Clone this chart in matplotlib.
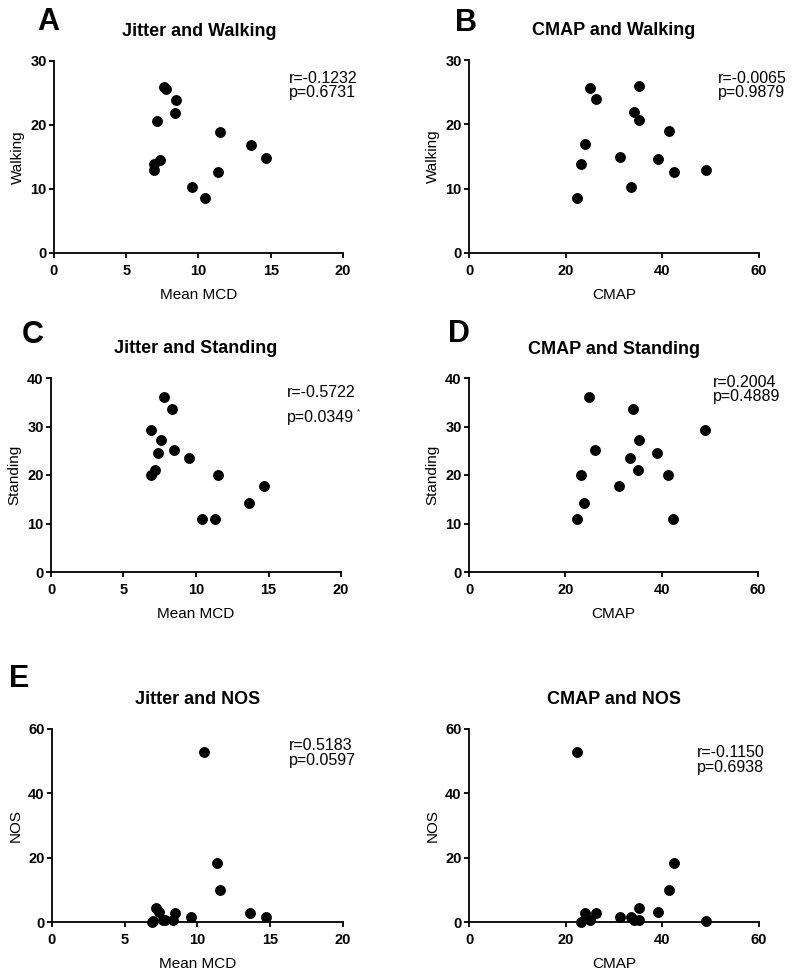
import matplotlib
matplotlib.use("Agg")
import matplotlib.pyplot as plt

plt.rcParams['font.family'] = ['Liberation Sans', 'DejaVu Sans']

# one entry per subject
mean_mcd = [10.43, 6.90, 13.63, 7.77, 8.45, 14.70, 9.52, 8.35, 7.62, 7.14, 7.35, 11.52, 11.33, 6.93]
cmap = [22.35, 23.15, 23.90, 25.00, 26.25, 31.20, 33.45, 34.06, 35.20, 35.15, 39.10, 41.35, 42.35, 49.00]
walking = [8.6, 13.9, 16.9, 25.6, 23.9, 14.9, 10.3, 21.9, 25.9, 20.6, 14.6, 18.95, 12.6, 12.9]
standing = [11.0, 19.9, 14.3, 36.0, 25.2, 17.7, 23.6, 33.6, 27.2, 21.0, 24.6, 19.95, 11.0, 29.3]
nos = [53.0, 0.0, 2.7, 0.7, 2.7, 1.7, 1.7, 0.7, 0.5, 4.3, 3.0, 10.0, 18.3, 0.3]

titles = ["Jitter and Walking", "CMAP and Walking",
          "Jitter and Standing", "CMAP and Standing",
          "Jitter and NOS", "CMAP and NOS"]
letters = ["A", "B", "C", "D", "E", ""]
stats = [("r=-0.1232", "p=0.6731"), ("r=-0.0065", "p=0.9879"),
         ("r=-0.5722", "p=0.0349"), ("r=0.2004", "p=0.4889"),
         ("r=0.5183", "p=0.0597"), ("r=-0.1150", "p=0.6938")]

W, H = 795, 975
fig = plt.figure(figsize=(W / 100, H / 100), dpi=100)


def px(x, y):
    return x / W, 1 - y / H


def make_axes(x0, x1, y0, y1):
    # pixel box -> figure fraction
    return fig.add_axes([x0 / W, 1 - y1 / H, (x1 - x0) / W, (y1 - y0) / H])


boxes = [(54, 343, 61, 253), (469, 759, 60, 253),
         (51, 341, 378, 572), (469, 758, 378, 572),
         (52, 343, 729, 922), (469, 759, 729, 922)]
xs = [mean_mcd, cmap] * 3
ys = [walking, walking, standing, standing, nos, nos]
ylabels = ["Walking", "Walking", "Standing", "Standing", "NOS", "NOS"]
xlabels = ["Mean MCD", "CMAP"] * 3
ylims = [(0, 30), (0, 30), (0, 40), (0, 40), (0, 60), (0, 60)]
yticks = [[0, 10, 20, 30], [0, 10, 20, 30], [0, 10, 20, 30, 40], [0, 10, 20, 30, 40],
          [0, 20, 40, 60], [0, 20, 40, 60]]
xlims = [(0, 20), (0, 60)] * 3
xticks = [[0, 5, 10, 15, 20], [0, 20, 40, 60]] * 3

# title centre / baseline, letter position, stats position (pixels)
title_pos = [(199, 36), (614, 35), (196, 353), (614, 354), (198, 704), (614, 704)]
letter_pos = [(37, 30), (455, 31), (22, 343), (448, 342), (9, 687), (0, 0)]
stat_pos = [(289, 83, 14.5), (718, 83, 14.5), (287, 397, 25), (713, 387, 14.5),
            (289, 750, 15), (697, 757, 15)]

for i in range(6):
    ax = make_axes(*boxes[i])
    ax.plot(xs[i], ys[i], 'o', color='black', ms=6.8, clip_on=False)
    ax.set_xlim(*xlims[i])
    ax.set_ylim(*ylims[i])
    ax.set_xticks(xticks[i])
    ax.set_yticks(yticks[i])
    for s in ['top', 'right']:
        ax.spines[s].set_visible(False)
    for s in ['left', 'bottom']:
        ax.spines[s].set_linewidth(1.3)
    ax.tick_params(axis='both', direction='out', length=3.8, width=1.3, labelsize=10.5)
    ax.tick_params(axis='x', pad=4)
    ax.tick_params(axis='y', pad=1.5)
    for lab in ax.get_xticklabels() + ax.get_yticklabels():
        lab.set_fontweight('bold')
    ax.set_xlabel(xlabels[i], fontsize=11, labelpad=7)
    ax.set_ylabel(ylabels[i], fontsize=11, labelpad=4)

    tx, ty = title_pos[i]
    fig.text(*px(tx, ty), titles[i], ha='center', va='baseline',
             fontsize=13, fontweight='bold')
    if letters[i]:
        lx, ly = letter_pos[i]
        fig.text(*px(lx, ly), letters[i], ha='left', va='baseline',
                 fontsize=22, fontweight='bold')
    sx, sy, gap = stat_pos[i]
    fig.text(*px(sx, sy), stats[i][0], ha='left', va='baseline', fontsize=11.5)
    fig.text(*px(sx, sy + gap), stats[i][1], ha='left', va='baseline', fontsize=11.5)

# significance mark on panel C
fig.text(*px(357, 413), "*", ha='left', va='baseline', fontsize=6)

fig.savefig("out.png", dpi=100)
